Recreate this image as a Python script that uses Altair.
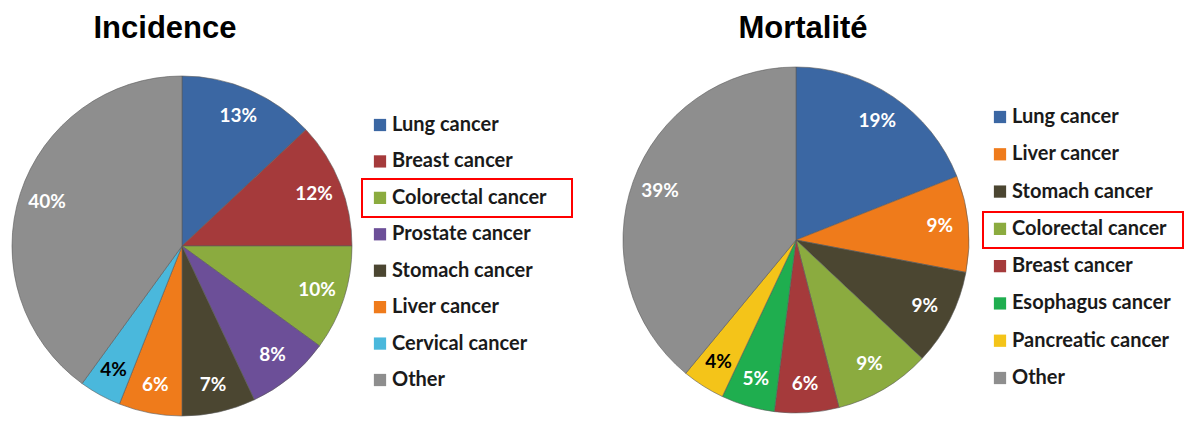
import math
import altair as alt
import pandas as pd

inc_cats = ["Lung cancer", "Breast cancer", "Colorectal cancer", "Prostate cancer",
            "Stomach cancer", "Liver cancer", "Cervical cancer", "Other"]
inc_vals = [13, 12, 10, 8, 7, 6, 4, 40]
inc_colors = ["#3b67a3", "#a53a3b", "#8bab3f", "#6c4f98", "#4b4631", "#ef7b1b", "#4ab8dc", "#8e8e8e"]

mort_cats = ["Lung cancer", "Liver cancer", "Stomach cancer", "Colorectal cancer",
             "Breast cancer", "Esophagus cancer", "Pancreatic cancer", "Other"]
mort_vals = [19, 9, 9, 9, 6, 5, 4, 39]
mort_colors = ["#3b67a3", "#ef7b1b", "#4b4631", "#8bab3f", "#a53a3b", "#1fae4f", "#f4c419", "#8e8e8e"]

LEG_FONT = "Lato"


def panel(title, cats, vals, colors, cx, cy, R, title_x, lx, ly0, ly1, box, width):
    df = pd.DataFrame({"cat": cats, "val": vals, "idx": list(range(len(cats))),
                       "label": [f"{v}%" for v in vals]})
    color = alt.Color("cat:N", scale=alt.Scale(domain=cats, range=colors), legend=None)
    theta = alt.Theta("val:Q", stack=True)
    order = alt.Order("idx:Q")

    arcs = alt.Chart(df).mark_arc(outerRadius=R, stroke="#5a5a5a", strokeWidth=0.6).encode(
        theta=theta, order=order, color=color, x=alt.value(cx), y=alt.value(cy))

    labels = alt.Chart(df).mark_text(radius=R * 0.835, font=LEG_FONT, fontWeight="bold",
                                     fontSize=19).encode(
        theta=theta, order=order, text="label:N",
        color=alt.condition("datum.val == 4", alt.value("black"), alt.value("white")),
        x=alt.value(cx), y=alt.value(cy))

    yscale = alt.Scale(domain=[0, len(cats) - 1], range=[ly0, ly1])
    leg_sym = alt.Chart(df).mark_square(size=150, opacity=1).encode(
        x=alt.value(lx), y=alt.Y("idx:Q", scale=yscale, axis=None), color=color)
    leg_txt = alt.Chart(df).mark_text(align="left", baseline="middle", font=LEG_FONT,
                                      fontSize=20, fontWeight="bold", color="#1a1a1a").encode(
        x=alt.value(lx + 12), y=alt.Y("idx:Q", scale=yscale, axis=None), text="cat:N")

    ttl = alt.Chart(alt.Data(values=[{}])).mark_text(
        text=title, font="Liberation Sans", fontWeight="bold", fontSize=31,
        align="center", baseline="middle", color="black").encode(
        x=alt.value(title_x), y=alt.value(21))

    redbox = alt.Chart(alt.Data(values=[{}])).mark_rect(
        filled=False, stroke="#ff0000", strokeWidth=2).encode(
        x=alt.value(box[0]), x2=alt.value(box[1]), y=alt.value(box[2]), y2=alt.value(box[3]))

    return alt.layer(arcs, labels, leg_sym, leg_txt, ttl, redbox).properties(
        width=width, height=400)


p1 = panel("Incidence", inc_cats, inc_vals, inc_colors, cx=174, cy=238, R=170,
           title_x=157, lx=372, ly0=117, ly1=372, box=(354, 564, 171, 209), width=592)
p2 = panel("Mortalité", mort_cats, mort_vals, mort_colors, cx=196, cy=232, R=173,
           title_x=203, lx=400, ly0=109, ly1=370, box=(383, 583, 204, 240), width=584)

chart = alt.hconcat(p1, p2, spacing=0, padding=0).resolve_scale(
    color="independent", theta="independent", y="independent"
).configure_view(stroke=None)

chart.save("out.html", embed_options={"renderer": "svg", "actions": False})
